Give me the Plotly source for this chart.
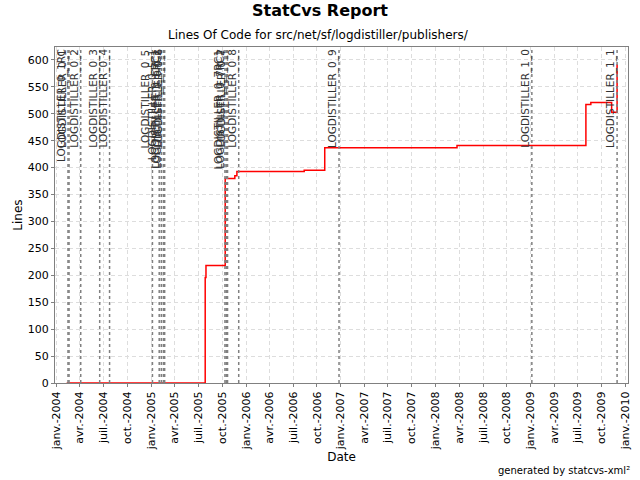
import plotly.graph_objects as go

# Lines of code over time (step data)
loc_dates = ["2004-02-11", "2005-07-28", "2005-07-31", "2005-10-13", "2005-11-19",
             "2005-11-27", "2006-08-13", "2006-10-31", "2008-03-23", "2009-08-01",
             "2009-08-20", "2009-11-08", "2009-11-29"]
loc_values = [0, 196, 218, 380, 385, 393, 395, 437, 441, 517, 521, 503, 592]

# Tags (vertical markers)
tag_names = ["LOGDISTILLER_0_1RC", "LOGDISTILLER_0_1", "LOGDISTILLER_0_2", "LOGDISTILLER_0_3",
             "LOGDISTILLER_0_4", "LOGDISTILLER_0_5", "LOGDISTILLER_0_5_1", "LOGDISTILLER_0_6RC1",
             "LOGDISTILLER_0_6RC2", "LOGDISTILLER_0_6", "LOGDISTILLER_0_7RC1", "LOGDISTILLER_0_7RC2",
             "LOGDISTILLER_0_7", "LOGDISTILLER_0_8", "LOGDISTILLER_0_9", "LOGDISTILLER_1_0",
             "LOGDISTILLER_1_1"]
tag_dates = ["2004-02-16", "2004-02-20", "2004-04-05", "2004-06-17", "2004-07-25",
             "2005-01-06", "2005-02-01", "2005-02-09", "2005-02-17", "2005-02-22",
             "2005-10-12", "2005-10-17", "2005-10-22", "2005-12-04", "2006-12-25",
             "2009-01-05", "2009-11-29"]

# X axis ticks
tick_dates = []
tick_labels = []
months = [("01", "janv."), ("04", "avr."), ("07", "juil."), ("10", "oct.")]
for yr in range(2004, 2010):
    for m, lab in months:
        tick_dates.append(f"{yr}-{m}-01")
        tick_labels.append(f"{lab}-{yr}")
tick_dates.append("2010-01-01")
tick_labels.append("janv.-2010")

fig = go.Figure()
fig.add_trace(go.Scatter(x=loc_dates, y=loc_values, mode="lines",
                         line=dict(color="#ff0000", width=1.5, shape="hv"),
                         showlegend=False))

for name, d in zip(tag_names, tag_dates):
    fig.add_shape(type="line", x0=d, x1=d, xref="x", yref="paper", y0=0, y1=1,
                  line=dict(color="#808080", width=1.5, dash="3px,3px"), layer="above")
    fig.add_annotation(x=d, y=1, xref="x", yref="paper", text=name, textangle=-90,
                       showarrow=False, xanchor="right", yanchor="top", xshift=1, yshift=-1,
                       borderpad=0,
                       font=dict(family="DejaVu Sans", size=10.5, color="#333333"))

fig.update_layout(
    width=640, height=480,
    margin=dict(l=55, r=8, t=47, b=97),
    paper_bgcolor="white", plot_bgcolor="white",
    font=dict(family="DejaVu Sans", color="#000000"),
    title=dict(text="<b>StatCvs Report</b>", x=0.5, xanchor="center", y=0.99, yanchor="top",
               font=dict(size=16, family="DejaVu Sans")),
    xaxis=dict(type="date", range=["2003-12-28", "2010-01-10"],
               tickvals=tick_dates, ticktext=tick_labels, tickangle=-90,
               tickfont=dict(size=11), ticks="outside", ticklen=3, tickcolor="#808080",
               showgrid=True, gridcolor="#dddddd", griddash="4px,3px", gridwidth=1,
               showline=True, linecolor="#808080", mirror=True, zeroline=False,
               title=dict(text="Date", font=dict(size=12), standoff=0)),
    yaxis=dict(range=[0, 624], tick0=0, dtick=50, tickfont=dict(size=11),
               ticks="outside", ticklen=3, tickcolor="#808080",
               showgrid=True, gridcolor="#dddddd", griddash="4px,3px", gridwidth=1,
               showline=True, linecolor="#808080", mirror=True, zeroline=False,
               title=dict(text="Lines", font=dict(size=12), standoff=2)),
)
fig.add_annotation(text="Lines Of Code for src/net/sf/logdistiller/publishers/", xref="paper", yref="paper",
                   x=0.4593, y=1, yshift=3, xanchor="center", yanchor="bottom", showarrow=False,
                   font=dict(size=12, family="DejaVu Sans"))
fig.add_annotation(text="generated by statcvs-xml²", xref="paper", yref="paper",
                   x=1, y=0, xanchor="right", yanchor="top", yshift=-80, xshift=4, showarrow=False,
                   font=dict(size=10, family="DejaVu Sans"))

fig.write_html("out.html", config={"displayModeBar": False},
               post_script="document.body.style.margin='0';document.body.style.overflow='hidden';")
